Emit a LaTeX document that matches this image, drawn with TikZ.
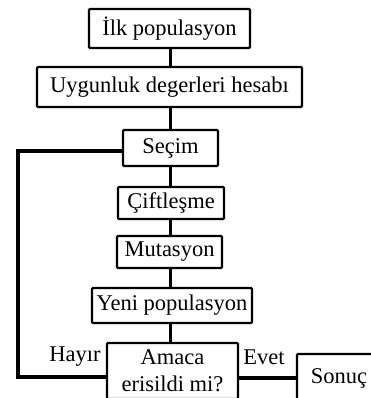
\documentclass[tikz,border=0pt]{standalone}
\usepackage{fontspec}
\setmainfont{Liberation Serif}
\begin{document}
\begin{tikzpicture}[x=1pt,y=-1pt,
  box/.style={draw, line width=2.2pt, rounded corners=1pt, inner sep=0pt, align=center,
    font=\fontsize{22.5}{27}\selectfont},
  conn/.style={line width=3.5pt},
  lbl/.style={inner sep=0pt, font=\fontsize{22.5}{27}\selectfont}]
\useasboundingbox (0,0) rectangle (371,398);
\node[box, minimum width=161, minimum height=39] (ilk) at (169.5,28.5) {İlk populasyon};
\node[box, minimum width=265, minimum height=40] (uyg) at (169.5,87) {Uygunluk degerleri hesabı};
\node[box, minimum width=95, minimum height=36] (secim) at (170.5,148) {Seçim};
\node[box, minimum width=106, minimum height=32] (cift) at (171,203) {Çiftleşme};
\node[box, minimum width=105, minimum height=32] (mut) at (169.5,252) {Mutasyon};
\node[box, minimum width=160, minimum height=35] (yeni) at (172,305.5) {Yeni populasyon};
\node[box, minimum width=131, minimum height=56] (amaca) at (172.5,371) {Amaca\\erisildi mi?};
\node[box, minimum width=84, minimum height=48] (sonuc) at (339,378) {Sonuç};
\node[lbl] (hayir) at (75,357) {Hayır};
\node[lbl] (evet) at (264,357) {Evet};
\coordinate (spine) at (170.5,0);
\coordinate (h1) at (18,377);
\coordinate (h2) at (18,151);
\coordinate (e) at (0,378);
\draw[conn] (ilk.south -| spine) -- (uyg.north -| spine);
\draw[conn] (uyg.south -| spine) -- (secim.north -| spine);
\draw[conn] (secim.south -| spine) -- (cift.north -| spine);
\draw[conn] (cift.south -| spine) -- (mut.north -| spine);
\draw[conn] (mut.south -| spine) -- (yeni.north -| spine);
\draw[conn] (yeni.south -| spine) -- (amaca.north -| spine);
\draw[conn] (amaca.west |- h1) -- (h1) -- (h2) -- (secim.west |- h2);
\draw[conn] (amaca.east |- e) -- (sonuc.west |- e);
\end{tikzpicture}
\end{document}
